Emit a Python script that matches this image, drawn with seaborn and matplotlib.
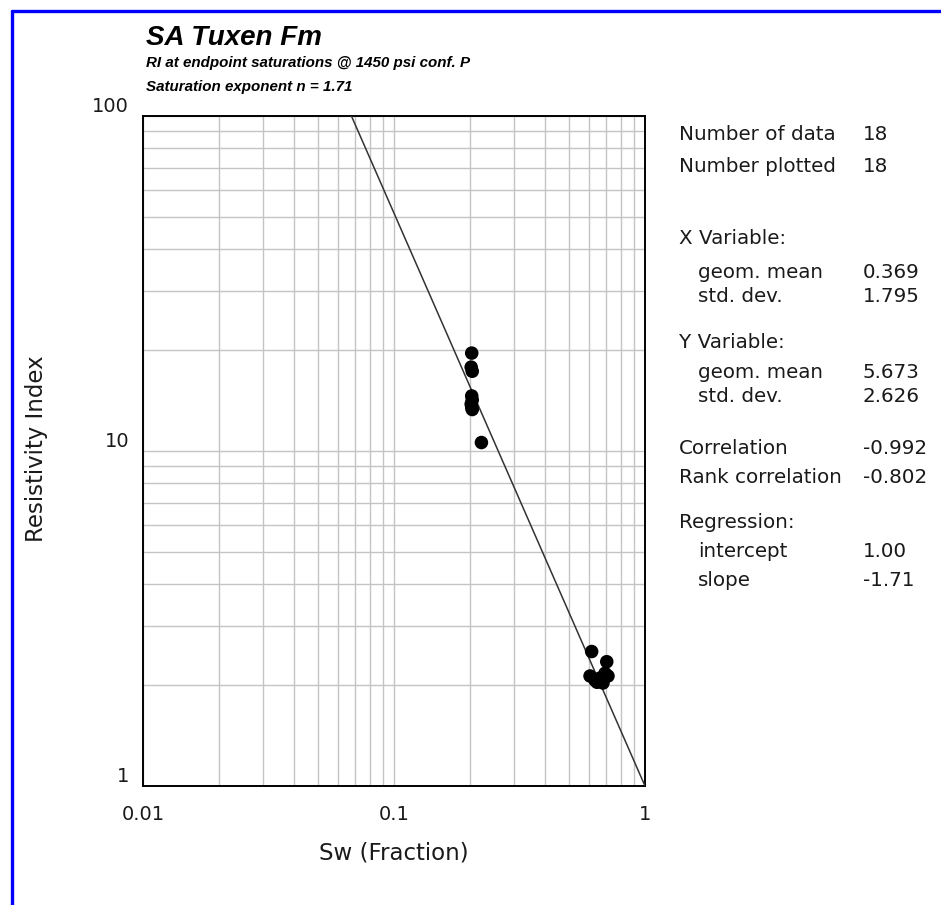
import numpy as np
import pandas as pd
import matplotlib
matplotlib.use("Agg")
import matplotlib.pyplot as plt
from matplotlib.lines import Line2D
from matplotlib.ticker import FixedLocator, NullFormatter, LogLocator
import seaborn as sns

# ---------------- data ----------------
sw = [0.204, 0.203, 0.205, 0.204, 0.205, 0.203, 0.204, 0.205, 0.223,
      0.613, 0.704, 0.604, 0.662, 0.693, 0.680, 0.644, 0.712, 0.632]
ri = [19.6, 17.8, 17.3, 14.6, 14.2, 13.8, 13.5, 13.3, 10.6,
      2.52, 2.35, 2.13, 2.10, 2.17, 2.03, 2.04, 2.13, 2.07]
reg_intercept = 1.00
reg_slope = -1.71

x_ticks = [0.01, 0.1, 1]
x_tick_labels = ["0.01", "0.1", "1"]
y_ticks = [1, 10, 100]
y_tick_labels = ["1", "10", "100"]

title = "SA Tuxen Fm"
subtitle1 = "RI at endpoint saturations @ 1450 psi conf. P"
subtitle2 = "Saturation exponent n = 1.71"
x_label = "Sw (Fraction)"
y_label = "Resistivity Index"

stat_labels = ["Number of data", "Number plotted", "X Variable:", "geom. mean", "std. dev.",
               "Y Variable:", "geom. mean", "std. dev.", "Correlation", "Rank correlation",
               "Regression:", "intercept", "slope"]
stat_values = ["18", "18", "", "0.369", "1.795", "", "5.673", "2.626", "-0.992", "-0.802",
               "", "1.00", "-1.71"]
stat_indent = [False, False, False, True, True, False, True, True, False, False, False, True, True]
stat_ypix = [135, 166, 239, 272, 297, 343, 372, 397, 448, 477, 522, 551, 580]

# ---------------- style ----------------
sns.set_style("white")
plt.rcParams['font.family'] = ['DejaVu Sans']
HELV = ['Liberation Sans', 'DejaVu Sans']

W, H = 941, 905
fig = plt.figure(figsize=(W / 100, H / 100), dpi=100)
fig.patch.set_facecolor("white")

def fx(px):
    return px / W

def fy(py):
    return 1 - py / H

ax_l, ax_r, ax_t, ax_b = 143, 645, 116, 786
ax = fig.add_axes([fx(ax_l), fy(ax_b), (ax_r - ax_l) / W, (ax_b - ax_t) / H])

df = pd.DataFrame({"Sw": sw, "RI": ri})

# regression line RI = intercept * Sw^slope, drawn across the visible range
x_top = (100 / reg_intercept) ** (1 / reg_slope)
xl = np.logspace(np.log10(x_top), 0, 50)
line_df = pd.DataFrame({"Sw": xl, "RI": reg_intercept * xl ** reg_slope})
sns.lineplot(data=line_df, x="Sw", y="RI", ax=ax, color="#333333", lw=1.1, zorder=3)

sns.scatterplot(data=df, x="Sw", y="RI", ax=ax, color="black", s=95,
                edgecolor="none", zorder=4)

ax.set_xscale("log")
ax.set_yscale("log")
ax.set_xlim(0.01, 1)
ax.set_ylim(1, 100)

ax.xaxis.set_major_locator(FixedLocator(x_ticks))
ax.yaxis.set_major_locator(FixedLocator(y_ticks))
ax.xaxis.set_minor_locator(LogLocator(base=10, subs=np.arange(2, 10)))
ax.yaxis.set_minor_locator(LogLocator(base=10, subs=np.arange(2, 10)))
ax.xaxis.set_minor_formatter(NullFormatter())
ax.yaxis.set_minor_formatter(NullFormatter())
ax.set_xticklabels(x_tick_labels)
ax.set_yticklabels(y_tick_labels)

ax.grid(True, which="both", color="#c4c4c4", lw=1.0)
ax.set_axisbelow(True)
for s in ax.spines.values():
    s.set_color("black")
    s.set_linewidth(1.4)

ax.tick_params(axis="both", which="major", direction="out", color="#999999",
               length=9, width=1, labelsize=14, labelcolor="#1a1a1a")
ax.tick_params(axis="y", which="minor", direction="out", color="#999999", length=5, width=1)
ax.tick_params(axis="x", which="minor", direction="out", color="#999999", length=7, width=1)
ax.tick_params(axis="x", which="major", pad=5)
ax.tick_params(axis="y", which="major", pad=1)
for lab in ax.get_yticklabels():
    lab.set_verticalalignment("bottom")

ax.set_xlabel("")
ax.set_ylabel("")
fig.text(fx(394), fy(853), x_label, ha="center", va="center", fontsize=16.5, color="#1a1a1a")
fig.text(fx(37), fy(449), y_label, ha="center", va="center", rotation=90, fontsize=16.5,
         color="#1a1a1a")

# titles
fig.text(fx(146), fy(38), title, ha="left", va="center", fontsize=20,
         fontweight="bold", fontstyle="italic", family=HELV, color="black")
fig.text(fx(146), fy(63), subtitle1, ha="left", va="center", fontsize=10.9,
         fontweight="bold", fontstyle="italic", family=HELV, color="black")
fig.text(fx(146), fy(87), subtitle2, ha="left", va="center", fontsize=10.9,
         fontweight="bold", fontstyle="italic", family=HELV, color="black")

# stats panel
for lab, val, ind, yp in zip(stat_labels, stat_values, stat_indent, stat_ypix):
    fig.text(fx(698 if ind else 679), fy(yp), lab, ha="left", va="center",
             fontsize=14.3, color="#1a1a1a")
    if val:
        fig.text(fx(863), fy(yp), val, ha="left", va="center", fontsize=14.3, color="#1a1a1a")

# blue frame (left and top edges)
fig.add_artist(Line2D([fx(12), fx(12)], [0, fy(11)], color="#0000ff", lw=2.4))
fig.add_artist(Line2D([fx(12), 1], [fy(11), fy(11)], color="#0000ff", lw=2.4))

fig.savefig("out.png", dpi=100, facecolor="white")
